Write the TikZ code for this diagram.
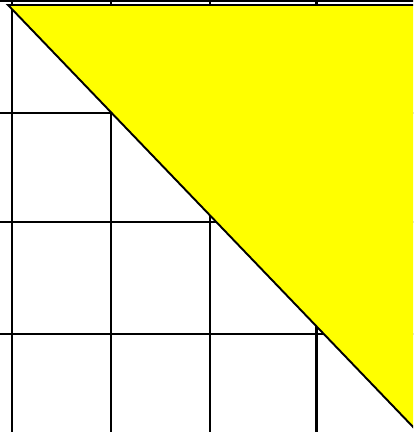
\documentclass[tikz,border=0pt]{standalone}
\usepackage{tikz}
\usetikzlibrary{calc}
\usepackage{xcolor}
\definecolor{wedge}{RGB}{255,255,0}

\begin{document}
\begin{tikzpicture}[x=0.02cm, y=-0.02cm]
  \useasboundingbox (0,0) rectangle (413,432);
  \clip (0,0) rectangle (413,432);

  % Grid
  \foreach \gx in {12,111,210,316}
    \draw[line width=1.7pt] (\gx,-5) -- (\gx,440);
  \foreach \gy in {1,113,222,334}
    \draw[line width=1.7pt] (-5,\gy) -- (420,\gy);

  % Yellow triangle
  \filldraw[fill=wedge, draw=black, line width=1.1pt, line join=miter]
    (8,5) -- (430,5) -- (430,444.6) -- cycle;
\end{tikzpicture}
\end{document}
